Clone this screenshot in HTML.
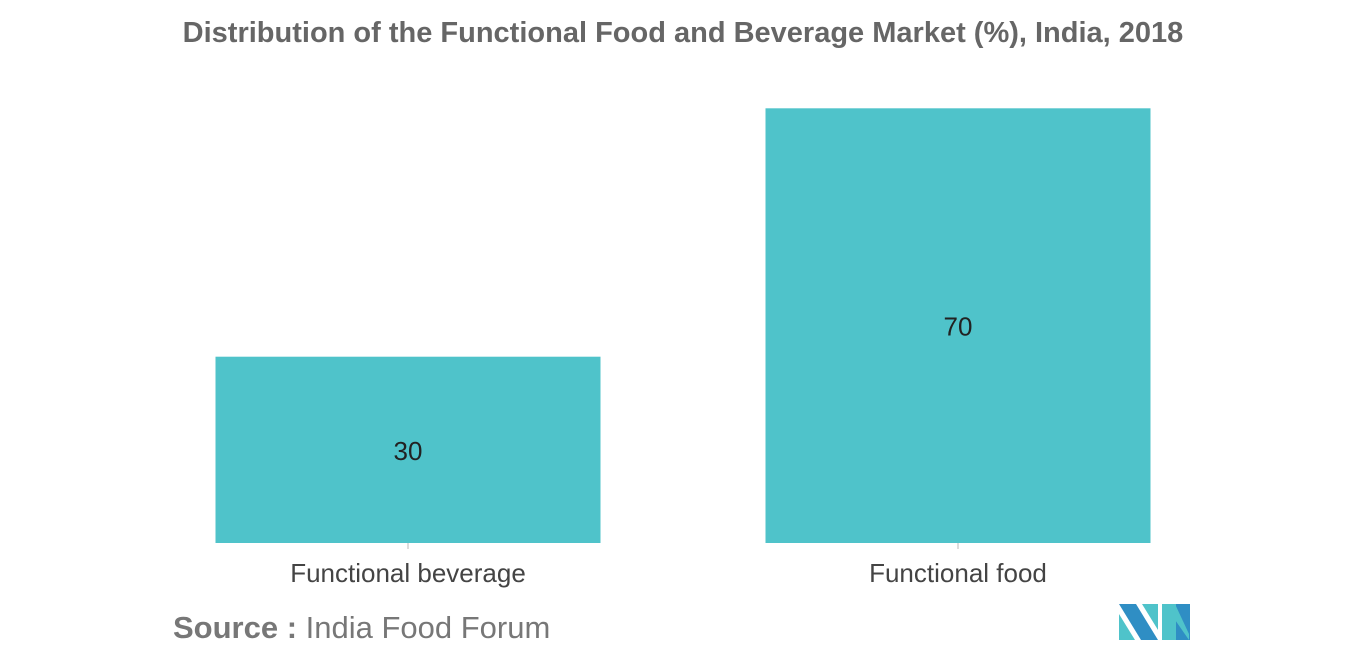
<!DOCTYPE html>
<html><head><meta charset="utf-8"><style>
body{margin:0;background:#fff;width:1366px;height:655px;overflow:hidden;font-family:"Liberation Sans",sans-serif}
</style></head><body>
<svg width="1366" height="655">
<text x="683" y="42" text-anchor="middle" font-size="29" font-weight="bold" fill="#666">Distribution of the Functional Food and Beverage Market (%), India, 2018</text>
<g id="bars"></g>
<text x="173" y="638" font-size="31" fill="#777"><tspan font-weight="bold">Source :</tspan> India Food Forum</text>
<g>
<polygon points="1119,604 1136,604 1158,640 1141,640" fill="#2f8ec4"/>
<polygon points="1119,614 1119,640 1135,640" fill="#4fc3ca"/>
<polygon points="1142,604 1158,604 1158,630" fill="#4fc3ca"/>
<polygon points="1162,604 1176,604 1176,640 1162,640" fill="#4fc3ca"/>
<polygon points="1176,604 1190,604 1190,640 1176,640" fill="#2f8ec4"/>
<polygon points="1164,604 1175,604 1189,634 1189,640" fill="#4fc3ca"/>
</g>
</svg>
<script>
const categories=["Functional beverage","Functional food"];
const values=[30,70];
const baseY=543, scale=6.21, slotStart=133, slotW=550, barW=385;
const g=document.getElementById('bars');
const ns='http://www.w3.org/2000/svg';
function yOf(v){return baseY-v*scale;}
function xCenter(i){return slotStart+slotW*(i+0.5);}
categories.forEach((c,i)=>{
  const cx=xCenter(i);
  const r=document.createElementNS(ns,'rect');
  r.setAttribute('x',cx-barW/2);r.setAttribute('y',yOf(values[i]));
  r.setAttribute('width',barW);r.setAttribute('height',baseY-yOf(values[i]));
  r.setAttribute('fill','#4fc3ca');
  
  
  g.appendChild(r);
  const t=document.createElementNS(ns,'text');
  t.setAttribute('x',cx);t.setAttribute('y',(yOf(values[i])+baseY)/2+10);
  t.setAttribute('text-anchor','middle');t.setAttribute('font-size','26');t.setAttribute('fill','#222');
  t.textContent=values[i];
  
  
  g.appendChild(t);
  const tk=document.createElementNS(ns,'line');
  tk.setAttribute('x1',cx);tk.setAttribute('x2',cx);tk.setAttribute('y1',baseY);tk.setAttribute('y2',baseY+6);
  tk.setAttribute('stroke','#bbb');
  
  
  g.appendChild(tk);
  const l=document.createElementNS(ns,'text');
  l.setAttribute('x',cx);l.setAttribute('y',582);
  l.setAttribute('text-anchor','middle');l.setAttribute('font-size','26');l.setAttribute('fill','#444');
  l.textContent=c;
  
  
  g.appendChild(l);
});
</script>
</body></html>
